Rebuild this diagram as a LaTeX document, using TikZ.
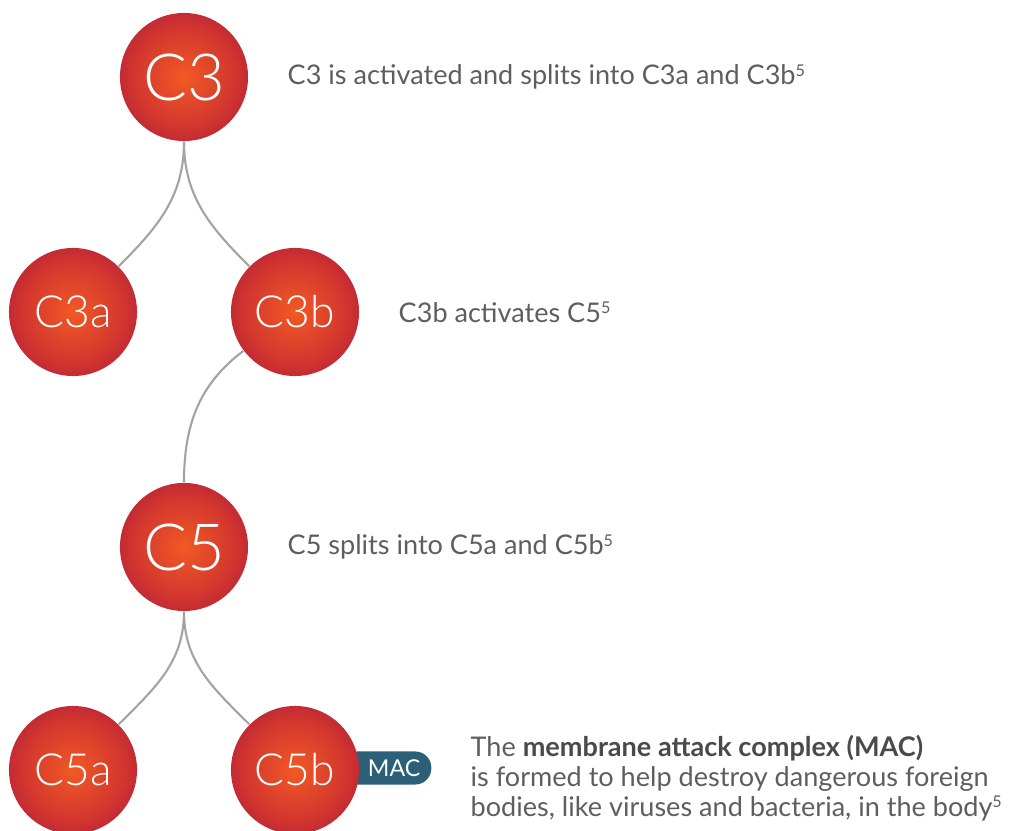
\documentclass[tikz,border=0pt]{standalone}
\usepackage{fontspec}
\setmainfont{Lato}
\newfontfamily\fina{Lato Light}
\usepackage{xcolor}

\definecolor{naranja}{HTML}{F15A24}
\definecolor{rojizo}{HTML}{D2352F}
\definecolor{carmesi}{HTML}{A3183F}
\definecolor{gristexto}{HTML}{5E5E5E}
\definecolor{grisnegrita}{HTML}{4A4A4A}
\definecolor{grislinea}{HTML}{A3A3A3}
\definecolor{azulmac}{HTML}{2C5F78}

\pgfdeclareradialshading{esfera}{\pgfpoint{0bp}{0bp}}{%
  color(0bp)=(naranja); color(20bp)=(rojizo); color(35bp)=(carmesi);
  color(50bp)=(carmesi)}

% numero de referencia pequeno
\newcommand{\refnum}[1]{\raisebox{0.32em}{\fontsize{4.6}{4.6}\selectfont #1}}

\tikzset{
  esferac/.style={circle, shading=esfera, minimum size=1.28cm, inner sep=0pt,
    text=white, font=\fina\fontsize{18.5}{18.5}\selectfont},
  esferab/.style={esferac, font=\fina\fontsize{12.6}{12.6}\selectfont},
  rama/.style={draw=grislinea, line width=0.6pt},
  nota/.style={anchor=west, inner sep=0pt, text=gristexto,
    font=\fontsize{7.7}{8.6}\selectfont},
  etiqueta/.style={fill=azulmac, text=white, rounded corners=0.16cm,
    minimum height=0.33cm, text width=0.68cm, align=right, inner xsep=0.11cm,
    inner ysep=0pt, font=\fontsize{6.6}{6.6}\selectfont}
}

\begin{document}
\begin{tikzpicture}[x=0.01cm, y=0.01cm]
        % Paso 1: Fija el marco del dibujo
        \useasboundingbox (0,0) rectangle (1018,830);

        % Paso 2: Dibuja la etiqueta MAC (queda bajo la esfera C5b)
        \node[etiqueta, anchor=east] (mac) at (432,62) {MAC};

        % Paso 3: Dibuja las esferas de la cascada
        \node[esferac] (c3)  at (184,753) {C3};
        \node[esferab] (c3a) at (73,518)  {C3a};
        \node[esferab] (c3b) at (295,518) {C3b};
        \node[esferac] (c5)  at (184,283) {C5};
        \node[esferab] (c5a) at (73,60)   {C5a};
        \node[esferab] (c5b) at (295,60)  {C5b};

        % Paso 4: Une las esferas con ramas curvas
        \draw[rama] (c3.south) to[out=-90, in=45]  (c3a.45);
        \draw[rama] (c3.south) to[out=-90, in=135] (c3b.135);
        \draw[rama] (c3b.217)  to[out=217, in=90]  (c5.north);
        \draw[rama] (c5.south) to[out=-90, in=45]  (c5a.45);
        \draw[rama] (c5.south) to[out=-90, in=135] (c5b.135);

        % Paso 5: Escribe las notas de cada paso
        \node[nota] (n1) at (287,753) {C3 is activated and splits into C3a and C3b\refnum{5}};
        \node[nota] (n2) at (398,518) {C3b activates C5\refnum{5}};
        \node[nota] (n3) at (287,283) {C5 splits into C5a and C5b\refnum{5}};
        \node[nota, align=left] (n4) at (470,52) {The \textbf{\color{grisnegrita}membrane attack complex (MAC)}\\
          is formed to help destroy dangerous foreign\\
          bodies, like viruses and bacteria, in the body\refnum{5}};
    \end{tikzpicture}
\end{document}
